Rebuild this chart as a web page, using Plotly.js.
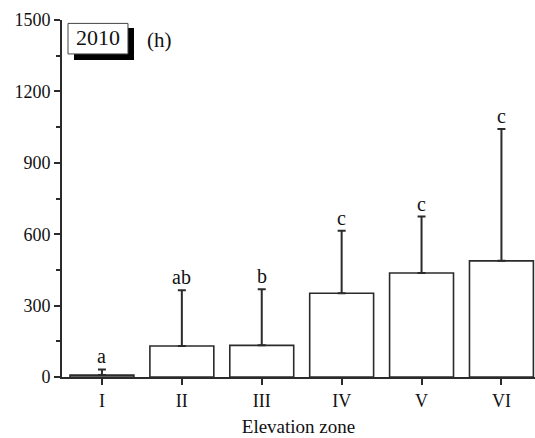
<!DOCTYPE html>
<html>
<head>
<meta charset="utf-8">
<script src="https://cdn.plot.ly/plotly-3.0.1.min.js"></script>
<style>html,body{margin:0;padding:0;background:#fff;}#chart{width:535px;height:438px;}</style>
</head>
<body>
<div id="chart"></div>
<script>
const zones = ['I', 'II', 'III', 'IV', 'V', 'VI'];
const means = [8, 130, 133, 352, 437, 488];
const errUp = [24, 234, 236, 263, 237, 554];
const letters = ['a', 'ab', 'b', 'c', 'c', 'c'];
const yTicks = [0, 300, 600, 900, 1200, 1500];
const panelYear = '2010';
const panelLabel = '(h)';
const xTitle = 'Elevation zone';

const ink = '#2b2b2b';
const serif = 'Liberation Serif, Times New Roman, serif';
const idx = zones.map((_, i) => i);

const trace = {
  type: 'bar',
  x: idx,
  y: means,
  width: 0.8,
  marker: {color: '#ffffff', line: {color: ink, width: 1.6}},
  error_y: {type: 'data', symmetric: false, array: errUp, arrayminus: zones.map(() => 0),
            color: ink, thickness: 2, width: 4},
  hoverinfo: 'skip'
};

const annotations = idx.map(i => ({
  x: i, y: means[i] + errUp[i], xref: 'x', yref: 'y',
  text: letters[i], showarrow: false, yanchor: 'bottom', yshift: 0,
  font: {family: serif, size: 20, color: '#111'}
}));
annotations.push({xref: 'paper', yref: 'paper', x: 0.0761, y: 0.9496, text: panelYear,
  showarrow: false, xanchor: 'center', yanchor: 'middle', font: {family: serif, size: 22, color: '#111'}});
annotations.push({xref: 'paper', yref: 'paper', x: 0.207, y: 0.944, text: panelLabel,
  showarrow: false, xanchor: 'center', yanchor: 'middle', font: {family: serif, size: 21, color: '#111'}});

const layout = {
  width: 535, height: 438,
  margin: {l: 62, r: 0, t: 20, b: 61},
  paper_bgcolor: '#fff', plot_bgcolor: '#fff',
  showlegend: false,
  bargap: 0.2,
  font: {family: serif, color: '#111'},
  xaxis: {
    range: [-0.5, 5.42], tickvals: idx, ticktext: zones,
    showline: true, linecolor: ink, linewidth: 2, zeroline: false, showgrid: false,
    ticks: 'outside', ticklen: 6, tickwidth: 2, tickcolor: ink,
    tickfont: {family: serif, size: 18, color: '#111'},
    title: {text: xTitle, font: {family: serif, size: 19, color: '#111'}, standoff: 10}
  },
  yaxis: {
    range: [0, 1500], tickvals: yTicks,
    showline: true, linecolor: ink, linewidth: 2, zeroline: false, showgrid: false,
    ticks: 'outside', ticklen: 6, tickwidth: 2, tickcolor: ink,
    minor: {dtick: 150, ticks: 'outside', ticklen: 4, tickwidth: 2, tickcolor: ink},
    tickfont: {family: serif, size: 18, color: '#111'}
  },
  shapes: [
    {type: 'rect', xref: 'paper', yref: 'paper', x0: 0.0254, x1: 0.1522, y0: 0.888, y1: 0.9776,
     fillcolor: '#000', line: {width: 0}},
    {type: 'rect', xref: 'paper', yref: 'paper', x0: 0.0127, x1: 0.1395, y0: 0.9049, y1: 0.9905,
     fillcolor: '#fff', line: {color: '#444', width: 1}}
  ],
  annotations: annotations
};

Plotly.newPlot('chart', [trace], layout, {staticPlot: true, displayModeBar: false});
</script>
</body>
</html>
